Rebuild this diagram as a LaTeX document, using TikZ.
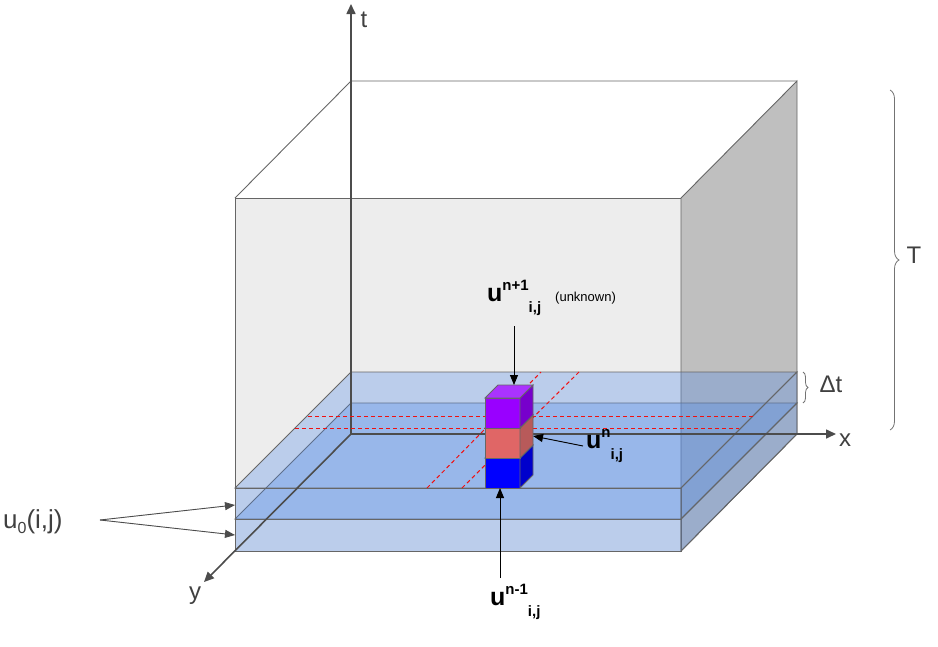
\documentclass[tikz,border=0pt]{standalone}
\usepackage{fontspec}
\setmainfont{Liberation Sans}
\usetikzlibrary{arrows.meta,decorations.pathreplacing}

\definecolor{slabblue}{HTML}{4A86E8}
\definecolor{gridred}{HTML}{F01010}
\definecolor{purpfront}{HTML}{9900FF}
\definecolor{purpside}{HTML}{7700CC}
\definecolor{purptop}{HTML}{AA33FF}
\definecolor{redfront}{HTML}{E06666}
\definecolor{redside}{HTML}{B85A5A}
\definecolor{bluefront}{HTML}{0000FF}
\definecolor{blueside}{HTML}{0000CC}

\tikzset{
  edge/.style={draw=black!60, line width=0.9pt},
  slab/.style={fill=slabblue, fill opacity=0.3, draw=black!60, line width=0.9pt},
  axis/.style={draw=black!70, line width=1.6pt, -{Triangle[length=10pt,width=9pt]}},
  redline/.style={draw=gridred, dash pattern=on 4pt off 3pt, line width=1pt},
  cubeedge/.style={draw=black!60, line width=0.9pt},
  lbl/.style={text=black!75, font=\fontsize{24}{24}\selectfont},
  pointer/.style={line width=0.9pt, -{Triangle[length=10pt,width=8pt]}}
}

% one little cube: front face at (#1,#2) with height 30, colours #3 #4 #5
\newcommand{\cellcube}[5]{%
  \filldraw[cubeedge, fill=#3] (#1,#2) rectangle ++(35,-30);
  \filldraw[cubeedge, fill=#4] (#1+35,#2) -- ++(13,-13) -- ++(0,-30) -- ++(-13,13) -- cycle;
  \filldraw[cubeedge, fill=#5] (#1,#2-30) -- ++(35,0) -- ++(13,-13) -- ++(-35,0) -- cycle;
}
% u with superscript and i,j
\newcommand{\ulab}[1]{\fontsize{25}{25}\selectfont\textbf{u}%
  \fontsize{15}{15}\selectfont\bfseries\raisebox{11pt}{#1}\raisebox{-11pt}{i,j}}

\begin{document}
\begin{tikzpicture}[x=1pt, y=-1pt]
\useasboundingbox (0,0) rectangle (938,646);

% the box
\filldraw[edge, fill=black!7] (235,198) rectangle (681,551);
\filldraw[edge, fill=black!25] (681,198) -- (797,81) -- (797,434) -- (681,551) -- cycle;
\draw[edge] (235,198) -- (351,81) -- (797,81);

% the two layers
\filldraw[slab] (235,519) -- (351,403) -- (797,403) -- (681,519) -- cycle;
\filldraw[slab] (235,519) rectangle (681,551);
\filldraw[slab] (681,519) -- (797,403) -- (797,434) -- (681,551) -- cycle;
\filldraw[slab] (235,488) -- (351,372) -- (797,372) -- (681,488) -- cycle;
\filldraw[slab] (235,488) rectangle (681,519);
\filldraw[slab] (681,488) -- (797,372) -- (797,403) -- (681,519) -- cycle;

% axes
\draw[axis] (351,434) -- (351,4);
\draw[axis] (351,434) -- (836,434);
\draw[axis] (351,434) -- (204,582);
\node[lbl] (tlbl) at (364,20) {t};
\node[lbl] (xlbl) at (845,440) {x};
\node[lbl] (ylbl) at (195,596) {y};

% grid lines of the cell
\draw[redline] (308,416) -- (754,416);
\draw[redline] (295,428) -- (739,428);
\draw[redline] (427,488) -- (541,372);
\draw[redline] (462,488) -- (579,372);

% the cells
\cellcube{485}{488}{bluefront}{blueside}{bluefront}
\cellcube{485}{458}{redfront}{redside}{redfront}
\cellcube{485}{428}{purpfront}{purpside}{purptop}

% labels
\node[anchor=west, inner sep=0pt] (unext) at (487,298) {\ulab{n+1}};
\node[anchor=west, inner sep=0pt, font=\fontsize{13}{13}\selectfont] (unknown) at (555,298) {(unknown)};
\node[anchor=west, inner sep=0pt] (unow) at (586,446) {\ulab{n}};
\node[anchor=west, inner sep=0pt] (uprev) at (490,602) {\ulab{n-1}};
\node[lbl, anchor=west, inner sep=0pt, font=\fontsize{26}{26}\selectfont] (uzero) at (3,522) {u\raisebox{-5pt}{\fontsize{16}{16}\selectfont 0}(i,j)};
\coordinate (toptip) at (514,385);
\coordinate (midtip) at (533,436);
\coordinate (bottip) at (500,488);
\coordinate (layerA) at (235,505);
\coordinate (layerB) at (235,535);
\draw[pointer] (514,326) -- (toptip);
\draw[pointer] (583,446) -- (midtip);
\draw[pointer] (500,578) -- (bottip);
\draw[pointer, black!70] (100,520) -- (layerA);
\draw[pointer, black!70] (100,520) -- (layerB);

% braces
\draw[black!55, line width=0.8pt, decorate, decoration={brace, amplitude=9pt}] (890,90) -- (890,430);
\node[lbl] (Tlbl) at (914,255) {T};
\draw[black!55, line width=0.8pt, decorate, decoration={brace, amplitude=5pt}] (803,372) -- (803,403);
\node[lbl] (dtlbl) at (831,384) {Δt};
\end{tikzpicture}
\end{document}
